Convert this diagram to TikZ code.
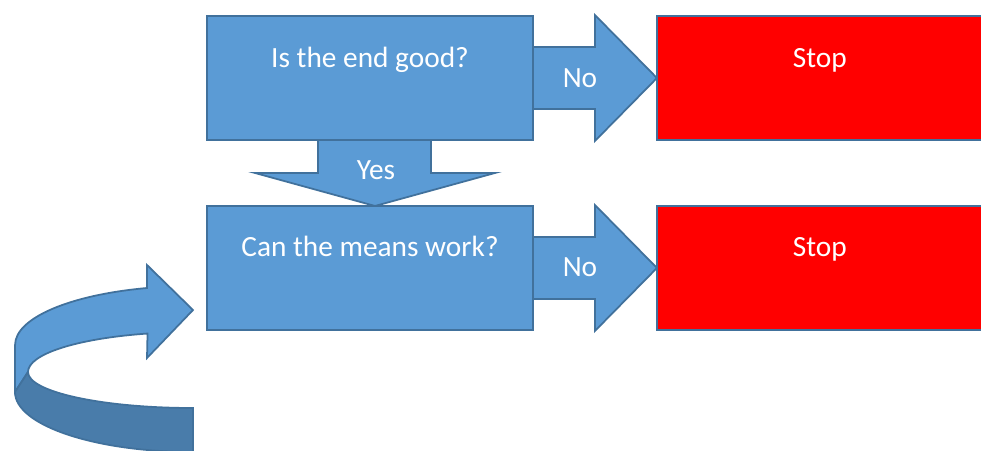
\documentclass[tikz,border=0pt]{standalone}
\usepackage{fontspec}
\setmainfont{Carlito}
\usetikzlibrary{calc, positioning, backgrounds}
\definecolor{boxblue}{HTML}{5B9BD5}
\definecolor{edgeblue}{HTML}{41719C}
\definecolor{bandshade}{HTML}{497CAA}
\definecolor{stopred}{HTML}{FF0000}

\begin{document}
\begin{tikzpicture}[x=0.02cm, y=-0.02cm, font=\fontsize{16.7}{20}\selectfont,
  box/.style={draw=edgeblue, fill=boxblue, line width=1pt, text=white, inner sep=0pt, outer sep=0pt,
    minimum width=6.52cm, text height=1.02cm, text depth=1.46cm},
  stopbox/.style={box, fill=stopred},
  bigarrow/.style={draw=edgeblue, fill=boxblue, line width=1pt, line join=miter},
  arrowtext/.style={text=white, anchor=base, inner sep=0pt}]
\useasboundingbox (0,0) rectangle (981,450);
\clip (0,0) rectangle (981,450);
\draw
    node [box] at (370,78) (endq) {Is the end good?}
    node [box, below=1.32cm of endq] (meansq) {Can the means work?}
    node [stopbox, right=2.48cm of endq] (stopa) {Stop}
    node [stopbox, right=2.48cm of meansq] (stopb) {Stop}
;
\begin{pgfonlayer}{background}
\draw[bigarrow] ($(endq.east)+(0,-31)$) -- ($(stopa.west)+(-62,-31)$) -- ($(stopa.west)+(-62,-63)$) -- (stopa.west)
    -- ($(stopa.west)+(-62,63)$) -- ($(stopa.west)+(-62,31)$) -- ($(endq.east)+(0,31)$);
\draw[bigarrow] ($(meansq.east)+(0,-31)$) -- ($(stopb.west)+(-62,-31)$) -- ($(stopb.west)+(-62,-63)$) -- (stopb.west)
    -- ($(stopb.west)+(-62,63)$) -- ($(stopb.west)+(-62,31)$) -- ($(meansq.east)+(0,31)$);
\draw[bigarrow] ($(endq.south)+(-52,0)$) -- ($(endq.south)+(-52,33)$) -- ($(endq.south)+(-115,33)$) -- ($(meansq.north)+(5,0)$)
    -- ($(endq.south)+(125,33)$) -- ($(endq.south)+(61,33)$) -- ($(endq.south)+(61,0)$);
\end{pgfonlayer}
\node[arrowtext] (noa) at ($(endq.east)+(47,9)$) {No};
\node[arrowtext] (nob) at ($(meansq.east)+(47,9)$) {No};
\node[arrowtext] (yes) at ($(endq.south)+(6,40)$) {Yes};
\draw[bigarrow] (147,288) arc[start angle=255, end angle=180, x radius=178, y radius=59] -- (15,392) -- (28,372)
    arc[start angle=180, end angle=254, x radius=165, y radius=40] -- (147,358) -- (193,310) -- (147,265) -- cycle;
\draw[bigarrow, fill=bandshade] (28,372) arc[start angle=180, end angle=90, x radius=165, y radius=36] -- (193,452)
    arc[start angle=90, end angle=180, x radius=178, y radius=60] -- cycle;
\end{tikzpicture}
\end{document}
